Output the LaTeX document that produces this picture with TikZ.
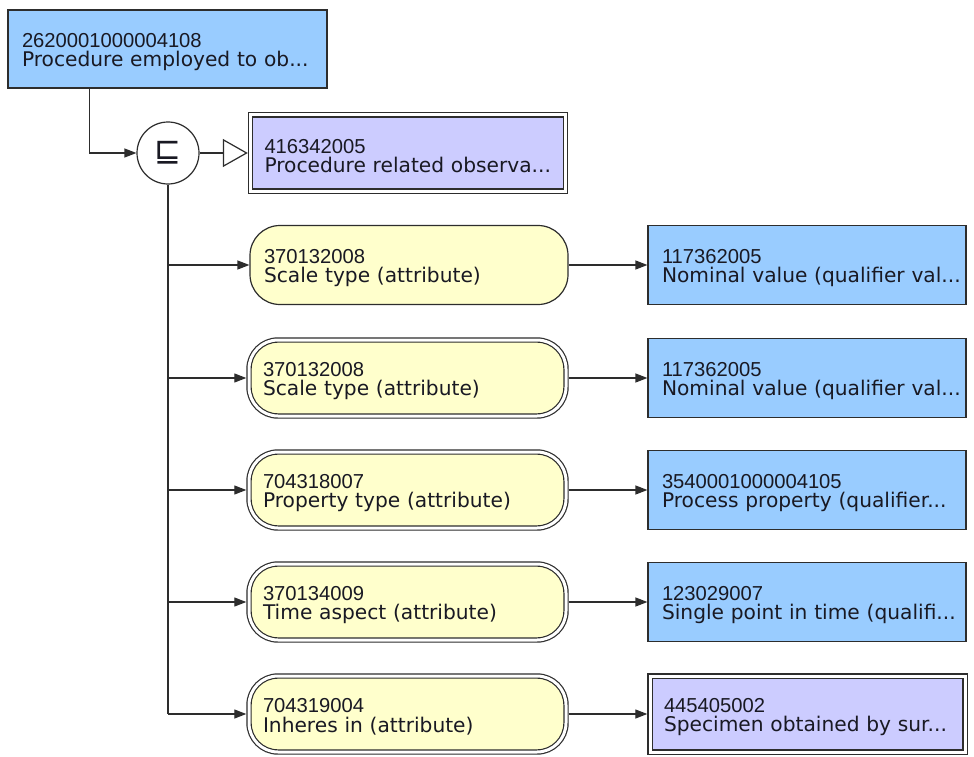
\documentclass[tikz,border=0pt]{standalone}
\usepackage{fontspec}
\setmainfont{DejaVu Sans}
\newfontfamily\numfont{Liberation Sans}
\usetikzlibrary{arrows.meta,calc}
\definecolor{cblue}{RGB}{153,204,255}
\definecolor{clav}{RGB}{204,204,255}
\definecolor{cyel}{RGB}{255,255,204}
\definecolor{cline}{RGB}{45,45,45}
\definecolor{ctext}{RGB}{25,25,35}
\newcommand\lbl[2]{\mbox{\rule{0pt}{20pt}\numfont\fontsize{20.2}{19.5}\selectfont #1}\\\mbox{#2}}
\tikzset{
  base/.style={draw=cline, line width=1.2pt, text=ctext, align=left,
    inner xsep=14pt, inner ysep=0pt, font=\fontsize{20.2}{19.5}\selectfont},
  dbl/.style={double=white, double distance=3pt, outer sep=2.7pt},
  bluebox/.style={base, rectangle, fill=cblue, minimum height=79pt, text width=290pt},
  lavbox/.style={base, dbl, rectangle, fill=clav, minimum height=76pt, text width=287pt},
  attr/.style={base, rectangle, rounded corners=30pt, fill=cyel, minimum height=79pt, text width=290pt},
  dattr/.style={base, dbl, rectangle, rounded corners=29pt, fill=cyel, minimum height=76pt, text width=289pt},
  conn/.style={draw=cline, line width=1.2pt},
  arr/.style={conn, -{Triangle[length=12pt,width=9pt]}},
  openarr/.style={conn, -{Triangle[open,length=25pt,width=28pt]}},
}
\begin{document}
\begin{tikzpicture}[x=1pt,y=-1pt]
\useasboundingbox (0,0) rectangle (974,757);
\fill[white] (0,0) rectangle (974,757);

\node[base, rectangle, fill=cblue, minimum height=78pt, text width=291pt] (A) at (167.5,49) {\lbl{2620001000004108}{Procedure employed to ob...}};
\node[draw=cline, line width=1.2pt, circle, fill=white, minimum size=62pt, inner sep=0pt, text=ctext] (C) at (168,153) {\fontsize{32}{32}\selectfont ⊑};
\node[lavbox] (B) at (408,153) {\lbl{416342005}{Procedure related observa...}};

\node[attr] (R1) at (409,265) {\lbl{370132008}{Scale type (attribute)}};
\node[dattr] (R2) at (407.5,378) {\lbl{370132008}{Scale type (attribute)}};
\node[dattr] (R3) at (407.5,490) {\lbl{704318007}{Property type (attribute)}};
\node[dattr] (R4) at (407.5,602) {\lbl{370134009}{Time aspect (attribute)}};
\node[dattr] (R5) at (407.5,714) {\lbl{704319004}{Inheres in (attribute)}};

\node[bluebox] (V1) at (807,265) {\lbl{117362005}{Nominal value (qualifier val...}};
\node[bluebox] (V2) at (807,378) {\lbl{117362005}{Nominal value (qualifier val...}};
\node[bluebox] (V3) at (807,490) {\lbl{3540001000004105}{Process property (qualifier...}};
\node[bluebox] (V4) at (807,602) {\lbl{123029007}{Single point in time (qualifi...}};
\node[lavbox] (V5) at (807.5,714) {\lbl{445405002}{Specimen obtained by sur...}};

\coordinate (Ad) at ($(A.south west)+(82,0)$);
\draw[arr] (Ad) |- (C.west);
\draw[openarr] (C.east) -- (B.west);
\draw[conn] (C.south) -- (C.south |- R5.west);
\foreach \i in {1,...,5}{
  \draw[arr] (C.south |- R\i.west) -- (R\i.west);
  \draw[arr] (R\i.east) -- (V\i.west);
}
\end{tikzpicture}
\end{document}
